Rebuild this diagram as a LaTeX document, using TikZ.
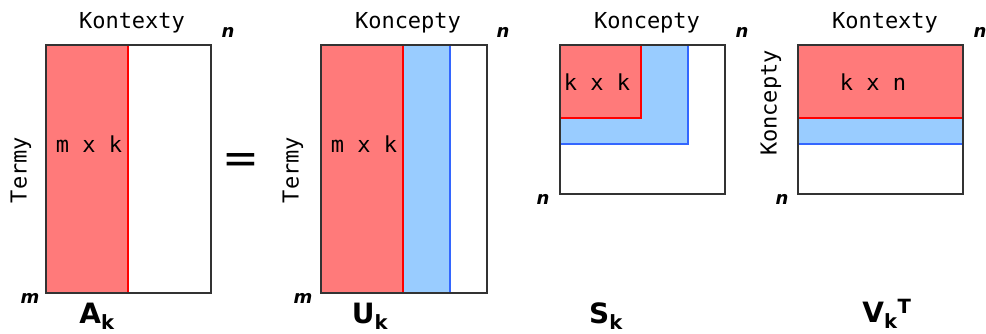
\documentclass[tikz,border=0pt]{standalone}
\usepackage{fontspec}
\setmainfont{DejaVu Sans}
\setmonofont{DejaVu Sans Mono}
\usetikzlibrary{positioning}
\definecolor{salmon}{RGB}{255,122,122}
\definecolor{skyblue}{RGB}{153,204,255}
\definecolor{framegray}{RGB}{51,51,51}
\definecolor{edgeblue}{RGB}{51,102,255}
\begin{document}
\begin{tikzpicture}[x=1pt, y=-1pt,
  head/.style={font=\fontsize{22}{26}\selectfont\ttfamily},
  dimlabel/.style={font=\fontsize{18}{22}\selectfont\itshape\bfseries},
  title/.style={font=\fontsize{28}{32}\selectfont\bfseries},
  frame/.style={draw=framegray, line width=2pt}]
  \useasboundingbox (0,0) rectangle (986,334);

  % A_k
  \fill[salmon] (46,45) rectangle (128,293);
  \draw[red, line width=1.5pt] (128,45) -- (128,293);
  \draw[frame] (46,45) rectangle (211,293);
  \node[head] (kontA) at (132,23) {Kontexty};
  \node[dimlabel] (nA) at (228,32) {n};
  \node[dimlabel] (mA) at (30,298) {m};
  \node[head, rotate=90] (termA) at (21,170) {Termy};
  \node[head] (sizeA) at (89,144) {m x k};
  \node[title] (nameA) at (97,316) {A\textsubscript{k}};

  \node[font=\fontsize{44}{48}\selectfont] (eq) at (241,164) {=};

  % U_k
  \fill[salmon] (321,45) rectangle (403,293);
  \fill[skyblue] (403,45) rectangle (450,293);
  \draw[red, line width=1.5pt] (403,45) -- (403,293);
  \draw[edgeblue, line width=1.5pt] (450,45) -- (450,293);
  \draw[frame] (321,45) rectangle (487,293);
  \node[head] (konU) at (408,23) {Koncepty};
  \node[dimlabel] (nU) at (503,32) {n};
  \node[dimlabel] (mU) at (303,298) {m};
  \node[head, rotate=90] (termU) at (293,170) {Termy};
  \node[head] (sizeU) at (364,144) {m x k};
  \node[title] (nameU) at (370,316) {U\textsubscript{k}};

  % S_k
  \fill[skyblue] (560,45) rectangle (688,144);
  \draw[edgeblue, line width=1.5pt] (560,144) -- (688,144) -- (688,45);
  \fill[salmon] (560,45) rectangle (641,118);
  \draw[red, line width=1.5pt] (560,118) -- (641,118) -- (641,45);
  \draw[frame] (560,45) rectangle (725,194);
  \node[head] (konS) at (647,23) {Koncepty};
  \node[dimlabel] (nS) at (742,32) {n};
  \node[dimlabel] (mS) at (543,199) {n};
  \node[head] (sizeS) at (597,82) {k x k};
  \node[title] (nameS) at (606,316) {S\textsubscript{k}};

  % V_k^T
  \fill[skyblue] (798,45) rectangle (963,144);
  \draw[edgeblue, line width=1.5pt] (798,144) -- (963,144);
  \fill[salmon] (798,45) rectangle (963,118);
  \draw[red, line width=1.5pt] (798,118) -- (963,118);
  \draw[frame] (798,45) rectangle (963,194);
  \node[head] (kontV) at (885,23) {Kontexty};
  \node[dimlabel] (nV) at (980,32) {n};
  \node[dimlabel] (mV) at (782,199) {n};
  \node[head, rotate=90] (konV) at (771,103) {Koncepty};
  \node[head] (sizeV) at (873,82) {k x n};
  \node[title] (nameV) at (887,314) {V\textsubscript{k}\textsuperscript{T}};
\end{tikzpicture}
\end{document}
